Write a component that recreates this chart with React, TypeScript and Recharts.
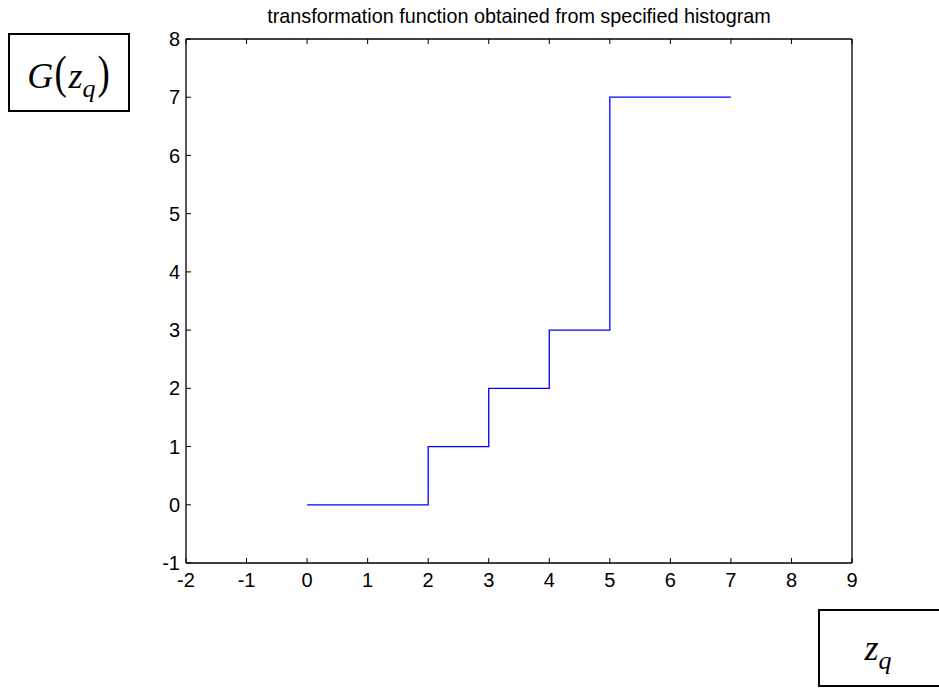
import { LineChart, Line, XAxis, YAxis } from 'recharts'

// step points of the transformation function G(z_q)
const zq = [0, 2, 3, 4, 5, 7]
const gValues = [0, 1, 2, 3, 7, 7]

const xTicks = [-2, -1, 0, 1, 2, 3, 4, 5, 6, 7, 8, 9]
const yTicks = [-1, 0, 1, 2, 3, 4, 5, 6, 7, 8]

const title = 'transformation function obtained from specified histogram'

const data = zq.map((z, i) => ({ z, g: gValues[i] }))

const FONT = '"Liberation Sans", Arial, sans-serif'
const TICK_LEN = 5
const axisLine = { stroke: '#000', strokeWidth: 1.3 }

// MATLAB style ticks: drawn inward from the axis line, label outside
function BottomTick({ x, y, payload }: any) {
  return (
    <g>
      <line x1={x} x2={x} y1={y} y2={y - TICK_LEN} stroke="#000" />
      <text x={x} y={y + 10} dy="0.71em" textAnchor="middle" fill="#000" fontSize={20} fontFamily={FONT}>
        {payload.value}
      </text>
    </g>
  )
}

function TopTick({ x, y }: any) {
  return <line x1={x} x2={x} y1={y} y2={y + TICK_LEN} stroke="#000" />
}

function LeftTick({ x, y, payload }: any) {
  return (
    <g>
      <line x1={x} x2={x + TICK_LEN} y1={y} y2={y} stroke="#000" />
      <text x={x - 6} y={y} dy="0.355em" textAnchor="end" fill="#000" fontSize={20} fontFamily={FONT}>
        {payload.value}
      </text>
    </g>
  )
}

function RightTick({ x, y }: any) {
  return <line x1={x} x2={x - TICK_LEN} y1={y} y2={y} stroke="#000" />
}

function MathBox({ left, top, width, height, children }: any) {
  return (
    <div
      style={{
        position: 'absolute',
        left,
        top,
        width,
        height,
        boxSizing: 'border-box',
        border: '2px solid #000',
        display: 'flex',
        alignItems: 'center',
        justifyContent: 'center',
        fontFamily: '"Liberation Serif", "Times New Roman", serif',
        fontStyle: 'italic',
        fontSize: 36,
        background: '#fff',
      }}
    >
      <span style={{ whiteSpace: 'nowrap' }}>{children}</span>
    </div>
  )
}

const subStyle = { fontSize: 26, position: 'relative' as const, top: '0.35em' }
const parenStyle = { fontStyle: 'normal', fontSize: 46, fontWeight: 300, transform: 'scaleX(0.8)', display: 'inline-block' }

export default function App() {
  return (
    <div style={{ position: 'absolute', left: 0, top: 0, width: 939, height: 692, background: '#fff', overflow: 'hidden' }}>
      <div
        style={{
          position: 'absolute',
          left: 186,
          width: 666,
          top: 7,
          textAlign: 'center',
          fontFamily: FONT,
          fontSize: 19.8,
          lineHeight: 1,
          color: '#000',
        }}
      >
        {title}
      </div>

      <div style={{ position: 'absolute', left: 0, top: 0 }}>
        <LineChart width={939} height={692} data={data} margin={{ top: 38, right: 86, bottom: 99, left: 146 }}>
          <XAxis
            xAxisId="bottom"
            dataKey="z"
            type="number"
            domain={[-2, 9]}
            ticks={xTicks}
            interval={0}
            height={30}
            tick={<BottomTick />}
            tickSize={0}
            tickMargin={0}
            tickLine={false}
            axisLine={axisLine}
          />
          <XAxis
            xAxisId="top"
            dataKey="z"
            type="number"
            orientation="top"
            domain={[-2, 9]}
            ticks={xTicks}
            interval={0}
            height={1}
            tick={<TopTick />}
            tickSize={0}
            tickMargin={0}
            tickLine={false}
            axisLine={axisLine}
          />
          <YAxis
            yAxisId="left"
            type="number"
            domain={[-1, 8]}
            ticks={yTicks}
            interval={0}
            width={40}
            tick={<LeftTick />}
            tickSize={0}
            tickMargin={0}
            tickLine={false}
            axisLine={axisLine}
          />
          <YAxis
            yAxisId="right"
            type="number"
            orientation="right"
            domain={[-1, 8]}
            ticks={yTicks}
            interval={0}
            width={1}
            tick={<RightTick />}
            tickSize={0}
            tickMargin={0}
            tickLine={false}
            axisLine={axisLine}
          />
          <Line
            xAxisId="bottom"
            yAxisId="left"
            type="stepAfter"
            dataKey="g"
            stroke="#0000ff"
            strokeWidth={1.3}
            dot={false}
            isAnimationActive={false}
          />
        </LineChart>
      </div>

      <MathBox left={8} top={33} width={122} height={79}>
        G<span style={parenStyle}>(</span>z<span style={subStyle}>q</span>
        <span style={parenStyle}>)</span>
      </MathBox>

      <MathBox left={818} top={609} width={130} height={78}>
        <span style={{ marginRight: 10 }}>
          z<span style={subStyle}>q</span>
        </span>
      </MathBox>
    </div>
  )
}
